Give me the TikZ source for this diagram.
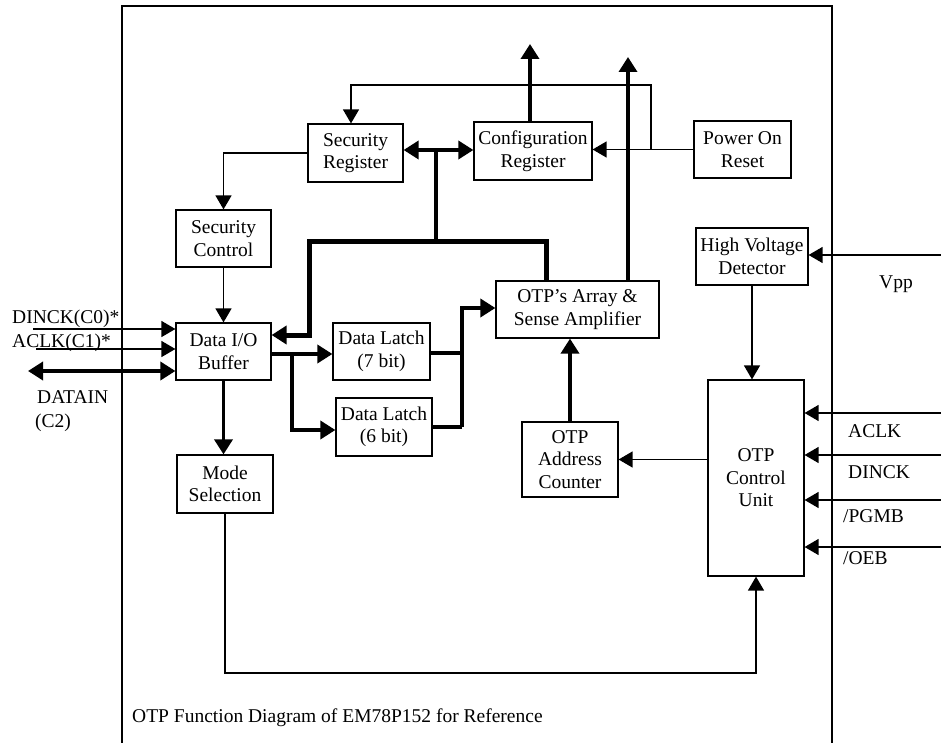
\documentclass[tikz,border=0pt]{standalone}
\usepackage{fontspec}
\setmainfont{Liberation Serif}
\usetikzlibrary{arrows.meta}
\begin{document}
\begin{tikzpicture}[x=1pt,y=-1pt,
  box/.style={draw,line width=1.2pt,inner sep=0pt,align=center,font=\fontsize{19.5}{22.5}\selectfont},
  thin/.style={line width=1.3pt},
  med/.style={line width=3.5pt},
  bus/.style={line width=5pt},
  tip/.style={-{Triangle[length=14pt,width=16pt]}},
  btip/.style={-{Triangle[length=15pt,width=18pt]}},
  dtip/.style={{Triangle[length=15pt,width=18pt]}-{Triangle[length=15pt,width=18pt]}},
  lbl/.style={anchor=base west,inner sep=0pt,font=\fontsize{19.5}{22.5}\selectfont}]
\useasboundingbox (0,0) rectangle (941,743);
\fill[white] (0,0) rectangle (941,743);
\draw[thin] (122,743) -- (122,6) -- (832,6) -- (832,743);

% nodes
\node[box,minimum width=95pt,minimum height=58pt] (sreg) at (355.5,153) {Security\\Register};
\node[box,minimum width=118pt,minimum height=58pt] (creg) at (533,151) {Configuration\\Register};
\node[box,minimum width=97pt,minimum height=57pt] (por) at (742.5,149.5) {Power On\\Reset};
\node[box,minimum width=95pt,minimum height=57pt] (sctl) at (223.5,238.5) {Security\\Control};
\node[box,minimum width=112pt,minimum height=57pt] (hvd) at (752,256.5) {High Voltage\\Detector};
\node[box,minimum width=163pt,minimum height=57pt] (arr) at (577.5,309.5) {OTP’s Array \&\\Sense Amplifier};
\node[box,minimum width=95pt,minimum height=57pt] (dio) at (223.5,351.5) {Data I/O\\Buffer};
\node[box,minimum width=97pt,minimum height=57pt] (dl7) at (381.5,351.5) {Data Latch\\(7 bit)};
\node[box,minimum width=96pt,minimum height=58pt] (dl6) at (384,427) {Data Latch\\(6 bit)};
\node[box,minimum width=96pt,minimum height=75pt] (cnt) at (570,459.5) {OTP\\Address\\Counter};
\node[box,minimum width=96pt,minimum height=58pt] (mode) at (225,484) {Mode\\Selection};
\node[box,minimum width=96pt,minimum height=196pt] (ctl) at (756,478) {OTP\\Control\\Unit};

% free ends
\coordinate (dinck) at (33,329);
\coordinate (aclk) at (36,349);
\coordinate (datain) at (28,371);
\coordinate (cfgtop) at (530,44);
\coordinate (arrtop) at (628,57);
\coordinate (porj) at (651,149.5);
\coordinate (busj) at (436,241);
\coordinate (vpp) at (941,255);
\coordinate (inA) at (941,413);
\coordinate (inB) at (941,455);
\coordinate (inC) at (941,500);
\coordinate (inD) at (941,547);

% connectors
\draw[thin,tip] (dinck) -- (dio.west |- dinck);
\draw[thin,tip] (aclk) -- (dio.west |- aclk);
\draw[med,dtip] (datain) -- (dio.west |- datain);
\draw[thin,tip] (sreg.west) -| (sctl.north);
\draw[thin,tip] (sctl.south) -- (dio.north);
\draw[med,btip] (dio.south) -- (dio.south |- mode.north);
\draw[thin,tip] (mode.south) -- (mode.south |- 0,673) -| (ctl.south);
\draw[thin,tip] (hvd.south) -- (hvd.south |- ctl.north);
\draw[thin,tip] (ctl.west |- cnt.east) -- (cnt.east);
\draw[med,btip] (cnt.north) -- (cnt.north |- arr.south);
\draw[med,btip] (arr.north -| arrtop) -- (arrtop);
\draw[med,btip] (creg.north -| cfgtop) -- (cfgtop);
\draw[thin,tip] (por.west) -- (creg.east |- por.west);
\draw[thin,tip] (porj) |- (351,85) -- (351,0 |- sreg.north);
\draw[med,dtip] (sreg.east |- 0,150) -- (creg.west |- 0,150);
\draw[med] (busj |- 0,150) -- (busj);
\draw[bus,btip] (arr.north -| 546,0) |- (309,241) |- (dio.east |- 0,335);
\draw[med,btip] (dio.east |- 0,354) -- (dl7.west |- 0,354);
\draw[med,btip] (292,354) |- (dl6.west |- 0,430);
\draw[med] (dl7.east |- 0,353) -- (462,353);
\draw[med] (dl6.east) -- (dl6.east -| 462,0);
\draw[med,btip] (462,427) |- (arr.west |- 0,308);
\draw[thin,tip] (vpp) -- (hvd.east |- vpp);
\draw[thin,tip] (inA) -- (ctl.east |- inA);
\draw[thin,tip] (inB) -- (ctl.east |- inB);
\draw[thin,tip] (inC) -- (ctl.east |- inC);
\draw[thin,tip] (inD) -- (ctl.east |- inD);

% labels
\node[lbl] (tdinck) at (12,323) {DINCK(C0)*};
\node[lbl] (taclk) at (12,347) {ACLK(C1)*};
\node[lbl] (tdatain) at (37,403) {DATAIN};
\node[lbl] (tc2) at (35,427) {(C2)};
\node[lbl] (tvpp) at (879,288) {Vpp};
\node[lbl] (taclk2) at (848,437) {ACLK};
\node[lbl] (tdinck2) at (848,478) {DINCK};
\node[lbl] (tpgmb) at (843,522) {/PGMB};
\node[lbl] (toeb) at (843,564) {/OEB};
\node[lbl] (tcap) at (132,722) {OTP Function Diagram of EM78P152 for Reference};
\end{tikzpicture}
\end{document}
